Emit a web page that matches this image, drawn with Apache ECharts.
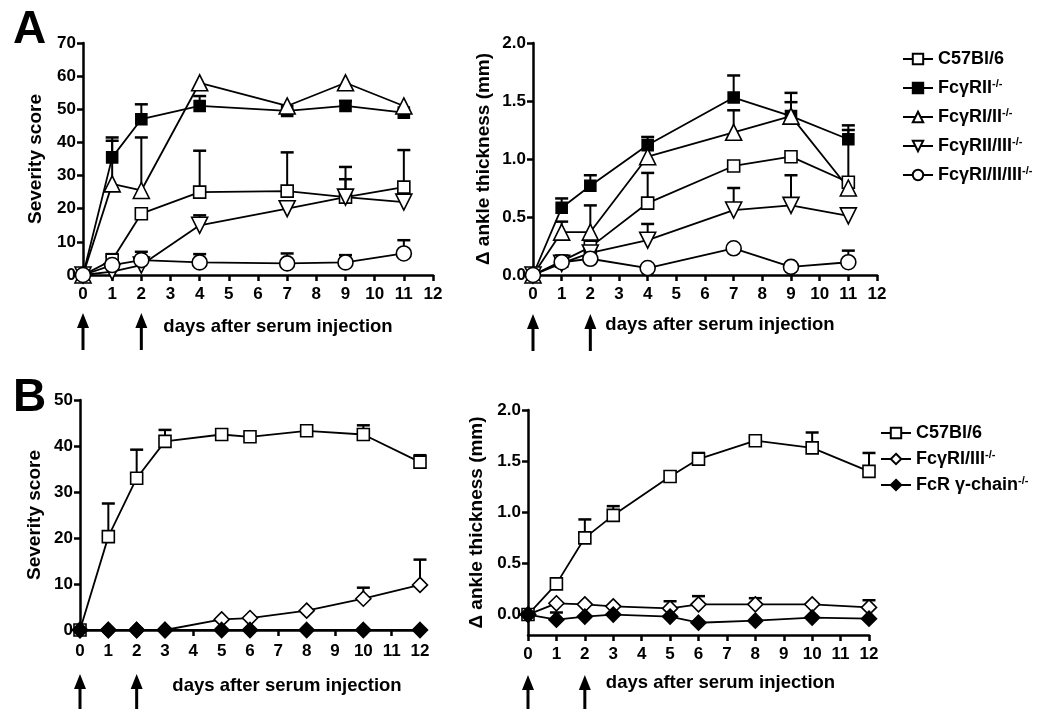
<!DOCTYPE html>
<html>
<head>
<meta charset="utf-8">
<title>Arthritis time course</title>
<script src="https://cdn.jsdelivr.net/npm/echarts@6/dist/echarts.min.js"></script>
<style>
  html, body { margin: 0; padding: 0; background: #fff; }
  #main { width: 1037px; height: 709px; }
</style>
</head>
<body>
<div id="main"></div>
<script>
// days of measurement
const daysA = [0, 1, 2, 4, 7, 9, 11];
const daysB = [0, 1, 2, 3, 5, 6, 8, 10, 12];
const injectionDays = [0, 2];

// panel A, severity score (mean / upper error)
const sevA_C57 = [0, 4.5, 18.5, 25, 25.3, 23.5, 26.5];
const sevA_C57_err = [null, 6.3, null, 37.5, 37, 32.6, 37.7];
const sevA_RII = [0, 35.5, 47, 51, 49.5, 51, 49];
const sevA_RII_err = [null, 41.5, 51.5, 54, null, 52.5, null];
const sevA_RI_II = [0, 27.5, 25.5, 58, 51, 58, 51];
const sevA_RI_II_err = [null, 40.5, 41.5, null, null, null, null];
const sevA_RII_III = [0, 1, 3, 15, 20, 23.5, 22];
const sevA_RII_III_err = [null, null, null, 18, null, 28.9, null];
const sevA_RI_II_III = [0, 3, 4.5, 3.8, 3.5, 3.8, 6.5];
const sevA_RI_II_III_err = [null, 5.5, 7, 6.3, 6.5, 6, 10.5];

// panel A, ankle thickness (mm)
const ankA_C57 = [0, 0.12, 0.24, 0.62, 0.94, 1.02, 0.8];
const ankA_C57_err = [null, null, null, 0.88, null, null, null];
const ankA_RII = [0, 0.58, 0.77, 1.12, 1.53, 1.37, 1.17];
const ankA_RII_err = [null, 0.66, 0.86, 1.19, 1.72, 1.57, 1.29];
const ankA_RI_II = [0, 0.37, 0.37, 1.02, 1.23, 1.37, 0.75];
const ankA_RI_II_err = [null, 0.46, 0.6, null, 1.42, 1.49, 1.25];
const ankA_RII_III = [0, 0.1, 0.19, 0.3, 0.56, 0.6, 0.51];
const ankA_RII_III_err = [null, null, null, 0.44, 0.75, 0.86, null];
const ankA_RI_II_III = [0, 0.11, 0.14, 0.06, 0.23, 0.07, 0.11];
const ankA_RI_II_III_err = [null, null, null, null, null, null, 0.21];

// panel B, severity score
const sevB_C57 = [0, 20.3, 33, 41, 42.5, 42, 43.3, 42.5, 36.5];
const sevB_C57_err = [null, 27.5, 39.2, 43.5, null, null, null, 44.5, 38];
const sevB_RI_III = [0, 0, 0, 0, 2.3, 2.6, 4.2, 6.8, 9.8];
const sevB_RI_III_err = [null, null, null, null, null, null, null, 9.2, 15.3];
const sevB_gamma = [0, 0, 0, 0, 0, 0, 0, 0, 0];

// panel B, ankle thickness (mm)
const ankB_C57 = [0, 0.30, 0.75, 0.97, 1.35, 1.52, 1.70, 1.63, 1.40];
const ankB_C57_err = [null, null, 0.93, 1.06, null, 1.58, 1.73, 1.78, 1.58];
const ankB_RI_III = [0, 0.11, 0.10, 0.08, 0.06, 0.10, 0.10, 0.10, 0.07];
const ankB_RI_III_err = [null, null, null, null, 0.13, 0.18, 0.16, null, 0.14];
const ankB_gamma = [0, -0.05, -0.02, 0, -0.02, -0.08, -0.06, -0.03, -0.04];
const ankB_gamma_err = [null, 0.02, null, null, null, null, null, null, null];

// legend names (base + superscript)
const namesA = ['C57Bl/6', 'FcγRII', 'FcγRI/II', 'FcγRII/III', 'FcγRI/II/III'];
const namesB = ['C57Bl/6', 'FcγRI/III', 'FcR γ-chain'];
const KO = '-/-';

const FONT = 'Liberation Sans';

const styles = {
  'C57Bl/6': { symbol: 'rect', size: 12, fill: '#fff', rotate: 0 },
  'FcγRII': { symbol: 'rect', size: 11, fill: '#000', rotate: 0 },
  'FcγRI/II': { symbol: 'triangle', size: 16, fill: '#fff', rotate: 0 },
  'FcγRII/III': { symbol: 'triangle', size: 16, fill: '#fff', rotate: 180 },
  'FcγRI/II/III': { symbol: 'circle', size: 15, fill: '#fff', rotate: 0 },
  'FcγRI/III': { symbol: 'diamond', size: 15, fill: '#fff', rotate: 0 },
  'FcR γ-chain': { symbol: 'diamond', size: 15, fill: '#000', rotate: 0 }
};

function legendName(base) {
  return base === 'C57Bl/6' ? base : base + KO;
}

function lineSeries(base, days, vals, idx) {
  const s = styles[base];
  return {
    type: 'line',
    name: legendName(base),
    xAxisIndex: idx, yAxisIndex: idx,
    data: days.map((d, i) => [d, vals[i]]),
    symbol: s.symbol, symbolSize: s.size, symbolRotate: s.rotate,
    showAllSymbol: true,
    lineStyle: { color: '#000', width: 1.8 },
    itemStyle: { color: s.fill, borderColor: '#000', borderWidth: 1.6 },
    z: 5, silent: true, animation: false
  };
}

function errSeries(days, vals, errs, idx) {
  const data = [];
  days.forEach((d, i) => { if (errs[i] != null) data.push([d, vals[i], errs[i]]); });
  return {
    type: 'custom',
    xAxisIndex: idx, yAxisIndex: idx,
    data: data,
    encode: { x: 0, y: [1, 2] },
    z: 3, silent: true, animation: false,
    renderItem: function (params, api) {
      const p0 = api.coord([api.value(0), api.value(1)]);
      const p1 = api.coord([api.value(0), api.value(2)]);
      return {
        type: 'group',
        children: [
          { type: 'line', shape: { x1: p0[0], y1: p0[1], x2: p1[0], y2: p1[1] }, style: { stroke: '#000', lineWidth: 2 } },
          { type: 'line', shape: { x1: p1[0] - 6.5, y1: p1[1], x2: p1[0] + 6.5, y2: p1[1] }, style: { stroke: '#000', lineWidth: 2.5 } }
        ]
      };
    }
  };
}

// injection arrows under the x axis, anchored at the injection days
function arrowSeries(idx, yMin, gap, len) {
  return {
    type: 'custom',
    xAxisIndex: idx, yAxisIndex: idx,
    data: injectionDays.map(d => [d, yMin]),
    clip: false, silent: true, animation: false,
    renderItem: function (params, api) {
      const p = api.coord([api.value(0), api.value(1)]);
      const x = p[0], y = p[1] + gap;
      return {
        type: 'group',
        children: [
          { type: 'polygon', shape: { points: [[x, y], [x - 6, y + 15], [x + 6, y + 15]] }, style: { fill: '#000' } },
          { type: 'line', shape: { x1: x, y1: y + 12, x2: x, y2: y + len }, style: { stroke: '#000', lineWidth: 3 } }
        ]
      };
    }
  };
}

const tickText = { color: '#000', fontFamily: FONT, fontWeight: 'bold', fontSize: 17 };
const nameText = { color: '#000', fontFamily: FONT, fontWeight: 'bold', fontSize: 19 };
const xNameText = { color: '#000', fontFamily: FONT, fontWeight: 'bold', fontSize: 18.5 };

function xAxis(idx, padLeft, gap, margin) {
  return {
    type: 'value', gridIndex: idx, min: 0, max: 12, interval: 1,
    name: 'days after serum injection', nameLocation: 'middle', nameGap: gap,
    nameTextStyle: Object.assign({ padding: [0, 0, 0, padLeft] }, xNameText),
    axisLine: { onZero: false, lineStyle: { color: '#000', width: 2.5 } },
    axisTick: { inside: false, length: 6, lineStyle: { color: '#000', width: 2.5 } },
    axisLabel: Object.assign({ margin: margin }, tickText),
    splitLine: { show: false }
  };
}

function yAxis(idx, opt) {
  return Object.assign({
    type: 'value', gridIndex: idx, nameLocation: 'middle', nameRotate: 90,
    nameTextStyle: nameText,
    axisLine: { onZero: false, lineStyle: { color: '#000', width: 2.5 } },
    axisTick: { inside: false, length: 6, lineStyle: { color: '#000', width: 2.5 } },
    axisLabel: Object.assign({ margin: 7 }, tickText),
    splitLine: { show: false }
  }, opt);
}

const ankleTicks = [0, 0.5, 1, 1.5, 2];
const fmt1 = v => v.toFixed(1);

const series = [];
// panel A left (grid 0)
[['C57Bl/6', sevA_C57, sevA_C57_err], ['FcγRII', sevA_RII, sevA_RII_err], ['FcγRI/II', sevA_RI_II, sevA_RI_II_err],
 ['FcγRII/III', sevA_RII_III, sevA_RII_III_err], ['FcγRI/II/III', sevA_RI_II_III, sevA_RI_II_III_err]].forEach(g => {
  series.push(errSeries(daysA, g[1], g[2], 0));
  series.push(lineSeries(g[0], daysA, g[1], 0));
});
// panel A right (grid 1)
[['C57Bl/6', ankA_C57, ankA_C57_err], ['FcγRII', ankA_RII, ankA_RII_err], ['FcγRI/II', ankA_RI_II, ankA_RI_II_err],
 ['FcγRII/III', ankA_RII_III, ankA_RII_III_err], ['FcγRI/II/III', ankA_RI_II_III, ankA_RI_II_III_err]].forEach(g => {
  series.push(errSeries(daysA, g[1], g[2], 1));
  series.push(lineSeries(g[0], daysA, g[1], 1));
});
// panel B left (grid 2)
[['C57Bl/6', sevB_C57, sevB_C57_err], ['FcγRI/III', sevB_RI_III, sevB_RI_III_err], ['FcR γ-chain', sevB_gamma, []]].forEach(g => {
  series.push(errSeries(daysB, g[1], g[2], 2));
  series.push(lineSeries(g[0], daysB, g[1], 2));
});
// panel B right (grid 3)
[['C57Bl/6', ankB_C57, ankB_C57_err], ['FcγRI/III', ankB_RI_III, ankB_RI_III_err], ['FcR γ-chain', ankB_gamma, ankB_gamma_err]].forEach(g => {
  series.push(errSeries(daysB, g[1], g[2], 3));
  series.push(lineSeries(g[0], daysB, g[1], 3));
});
series.push(arrowSeries(0, 0, 38, 37));
series.push(arrowSeries(1, 0, 39, 37));
series.push(arrowSeries(2, 0, 44, 45));
series.push(arrowSeries(3, -0.2, 40, 45));

function legendOpt(names, left, top, gap) {
  return {
    orient: 'vertical', left: left, top: top, padding: 0,
    itemWidth: 30, itemHeight: 13, itemGap: gap, itemTextGap: 8,
    selectedMode: false,
    data: names.map(legendName),
    formatter: function (n) {
      return n.endsWith(KO) ? n.slice(0, -KO.length) + '{sup|' + KO + '}' : n;
    },
    textStyle: {
      color: '#000', fontFamily: FONT, fontWeight: 'bold', fontSize: 18,
      rich: { sup: { fontSize: 11, fontWeight: 'bold', fontFamily: FONT, color: '#000', verticalAlign: 'top', padding: [0, 0, 9, 0] } }
    }
  };
}

const option = {
  backgroundColor: '#fff',
  animation: false,
  title: [
    { text: 'A', left: 8, top: 2, textStyle: { fontFamily: FONT, fontWeight: 'bold', fontSize: 46, color: '#000' } },
    { text: 'B', left: 8, top: 370, textStyle: { fontFamily: FONT, fontWeight: 'bold', fontSize: 46, color: '#000' } }
  ],
  legend: [
    legendOpt(namesA, 902, 50, 10),
    legendOpt(namesB, 880, 424, 7)
  ],
  grid: [
    { left: 83, top: 43, width: 350, height: 232, outerBoundsMode: 'none' },
    { left: 533, top: 43, width: 344, height: 232, outerBoundsMode: 'none' },
    { left: 80, top: 400, width: 340, height: 230, outerBoundsMode: 'none' },
    { left: 528, top: 410, width: 341, height: 225, outerBoundsMode: 'none' }
  ],
  xAxis: [xAxis(0, 40, 42, 11), xAxis(1, 30, 40, 11), xAxis(2, 74, 46, 13), xAxis(3, 44, 38, 11)],
  yAxis: [
    yAxis(0, { min: 0, max: 70, interval: 10, name: 'Severity score', nameGap: 38 }),
    yAxis(1, { min: 0, max: 2, interval: 0.5, name: 'Δ ankle thickness (mm)', nameGap: 40,
      axisLabel: Object.assign({ margin: 7, formatter: fmt1 }, tickText) }),
    yAxis(2, { min: 0, max: 50, interval: 10, name: 'Severity score', nameGap: 36 }),
    yAxis(3, { min: -0.2, max: 2, name: 'Δ ankle thickness (mm)', nameGap: 42,
      axisTick: { inside: false, length: 6, customValues: ankleTicks, lineStyle: { color: '#000', width: 2.5 } },
      axisLabel: Object.assign({ margin: 7, customValues: ankleTicks, formatter: fmt1 }, tickText) })
  ],
  series: series
};

const chart = echarts.init(document.getElementById('main'), null, { renderer: 'canvas' });
chart.setOption(option);
</script>
</body>
</html>
